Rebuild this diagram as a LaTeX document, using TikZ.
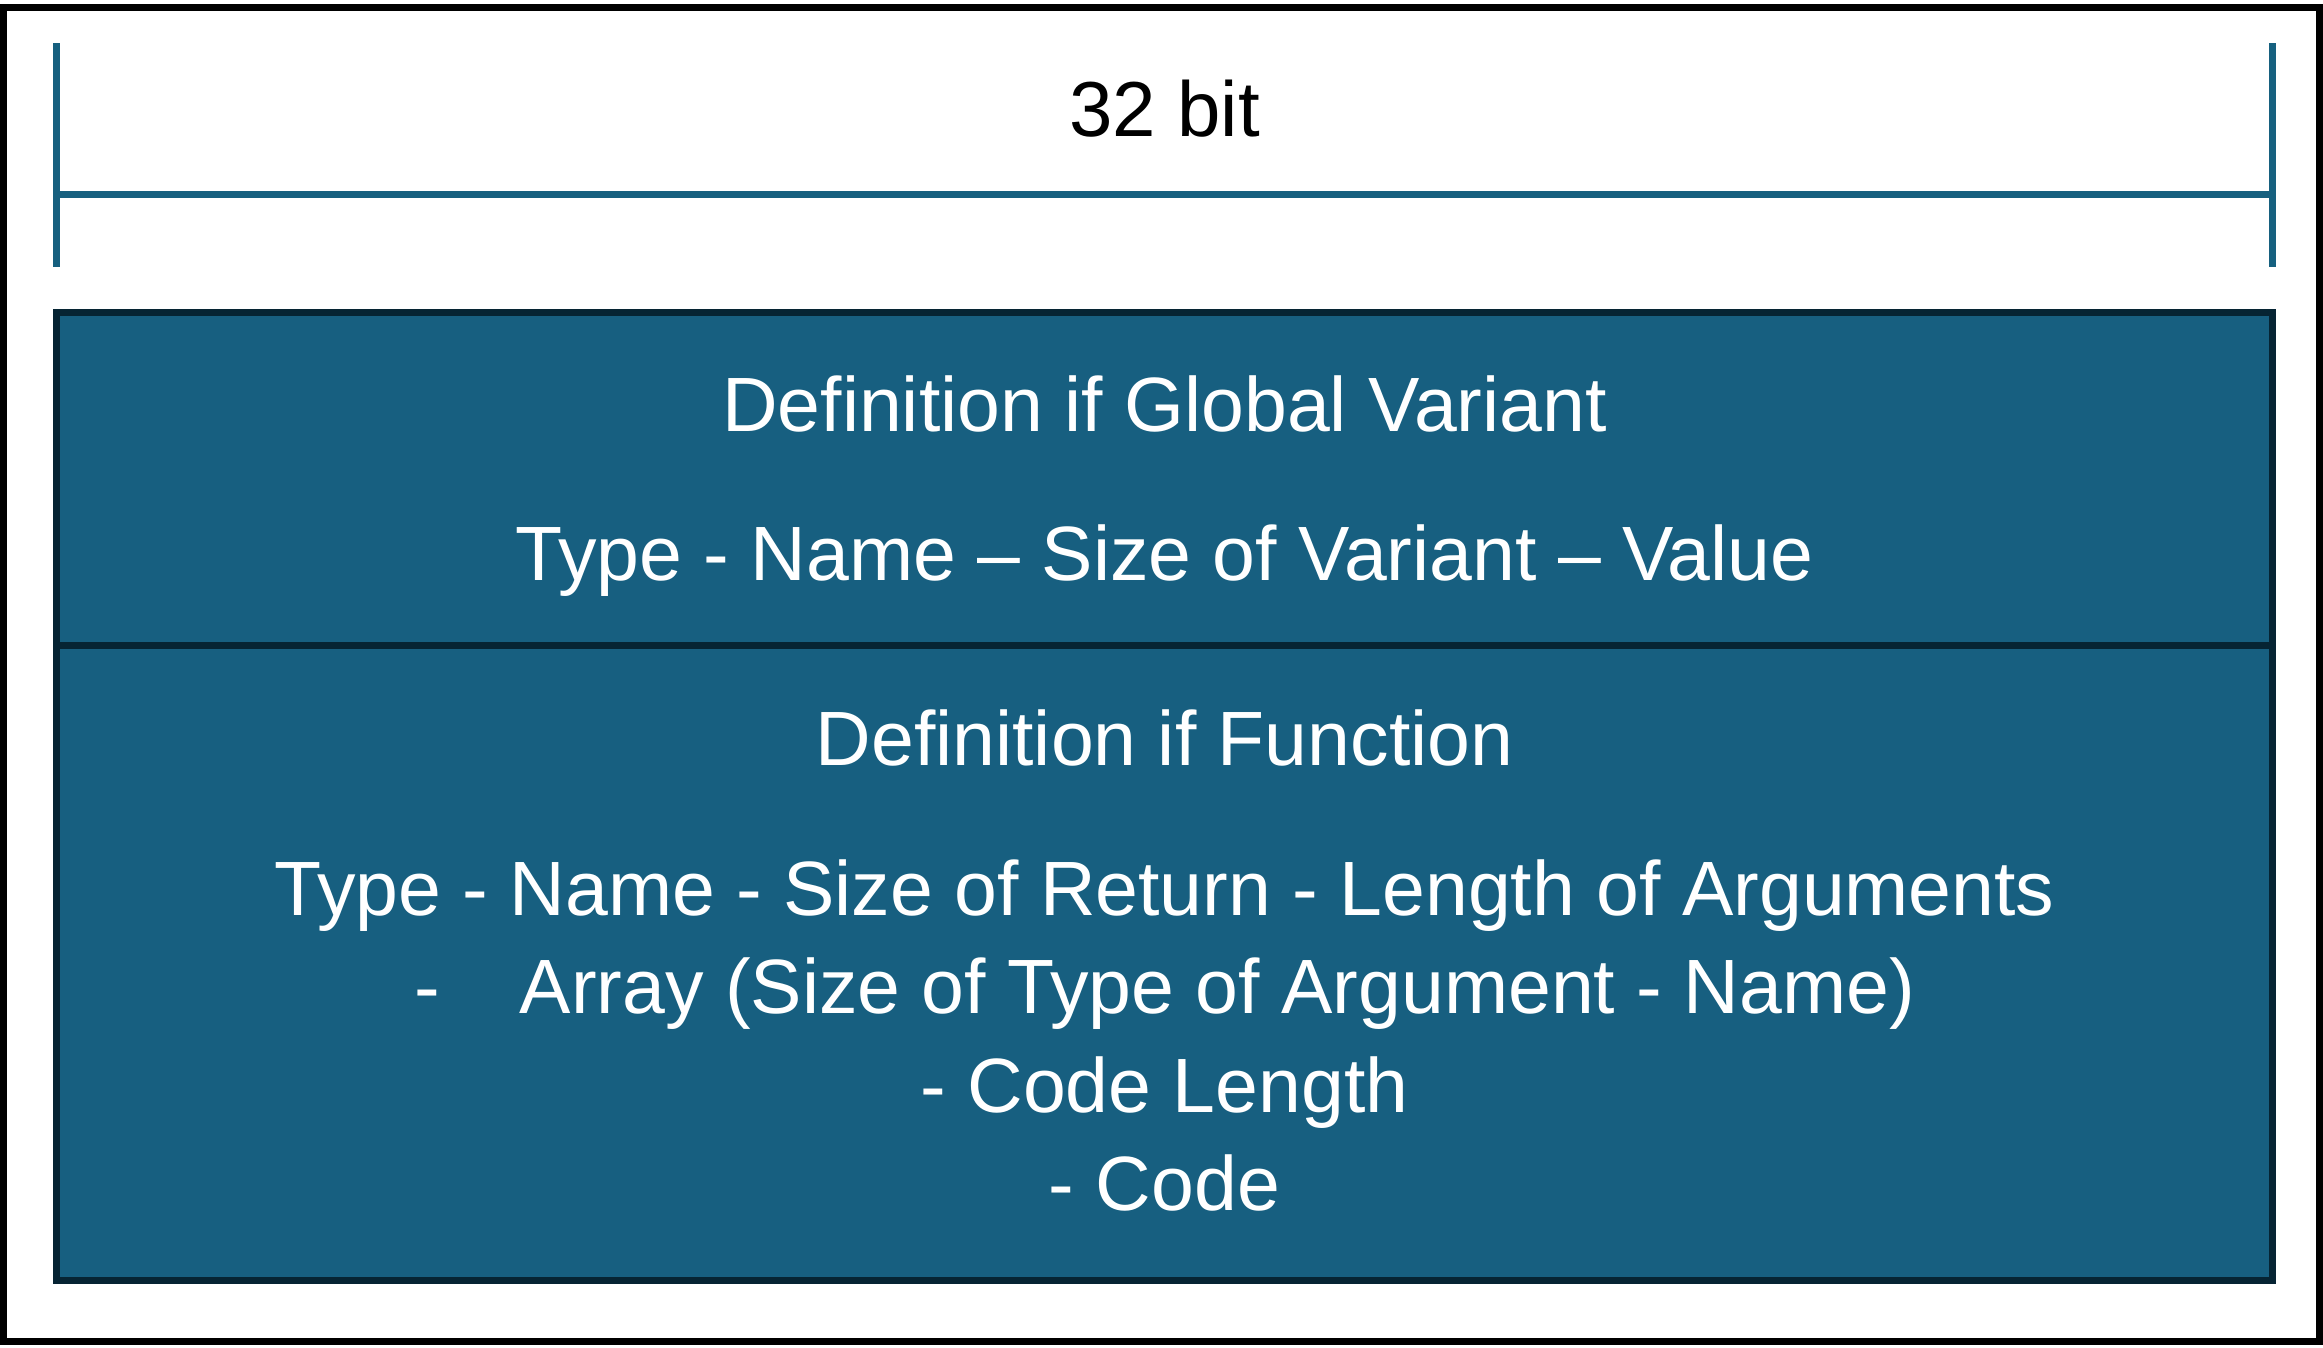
\documentclass[tikz,border=0pt]{standalone}
\usepackage{fontspec}
\setmainfont{Liberation Sans}
\definecolor{boxfill}{HTML}{175F80}
\definecolor{boxedge}{HTML}{062433}
\definecolor{dimline}{HTML}{16607F}
\begin{document}
\begin{tikzpicture}[x=1pt,y=-1pt,
  frame/.style={draw=black,line width=7pt},
  dimrule/.style={draw=dimline,line width=7pt},
  field/.style={draw=boxedge,fill=boxfill,line width=7pt},
  boxtext/.style={anchor=base,text=white,inner sep=0pt,font=\fontsize{77}{92}\selectfont},
  headtext/.style={anchor=base,text=black,inner sep=0pt,font=\fontsize{78}{92}\selectfont}]
  \useasboundingbox (0,0) rectangle (2323,1347);
  % outer frame
  \draw[frame] (3.5,7.5) rectangle (2319.5,1341.5);
  % width dimension
  \coordinate (dl) at (56.5,194.5);
  \coordinate (dr) at (2272.5,194.5);
  \draw[dimrule] (56.5,43) -- (56.5,267);
  \draw[dimrule] (2272.5,43) -- (2272.5,267);
  \draw[dimrule] (dl) -- (dr);
  \node[headtext] (width) at (1164.5,136) {32 bit};
  % the two definition fields
  \draw[field] (56.5,312.5) rectangle (2272.5,645.5);
  \draw[field] (56.5,645.5) rectangle (2272.5,1280.5);
  \node[boxtext] (gtitle) at (1164.5,431) {Definition if Global Variant};
  \node[boxtext] (gbody) at (1164.5,580) {Type - Name – Size of Variant – Value};
  \node[boxtext] (ftitle) at (1164.5,765) {Definition if Function};
  \node[boxtext] (fl1) at (1164.5,915) {Type - Name - Size of Return - Length of Arguments};
  \node[boxtext] (fl2) at (1164.5,1013) {-\hspace{80pt}Array (Size of Type of Argument - Name)};
  \node[boxtext] (fl3) at (1164.5,1112) {- Code Length};
  \node[boxtext] (fl4) at (1164.5,1210) {- Code};
\end{tikzpicture}
\end{document}
